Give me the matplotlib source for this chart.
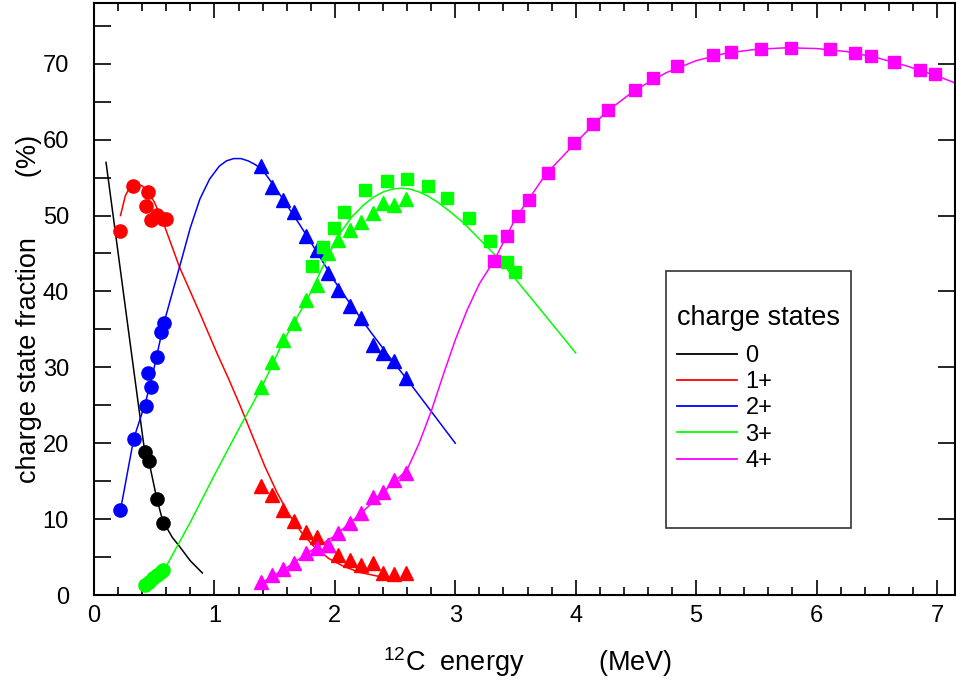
import matplotlib
matplotlib.use("Agg")
import matplotlib.pyplot as plt
from matplotlib.lines import Line2D
from matplotlib.patches import Rectangle
from matplotlib.ticker import MultipleLocator

plt.rcParams["font.family"] = ["Liberation Sans", "DejaVu Sans"]
plt.rcParams["mathtext.fontset"] = "custom"
plt.rcParams["mathtext.rm"] = "Liberation Sans"

# measured points (E in MeV, fraction in %)
q0_circ_x = [0.42, 0.46, 0.52, 0.57]
q0_circ_y = [18.9, 17.7, 12.6, 9.5]
q1_circ_x = [0.22, 0.32, 0.45, 0.43, 0.47, 0.52, 0.57, 0.60]
q1_circ_y = [47.9, 53.9, 53.1, 51.3, 49.4, 50.1, 49.5, 49.5]
q2_circ_x = [0.22, 0.33, 0.43, 0.47, 0.45, 0.52, 0.56, 0.58]
q2_circ_y = [11.2, 20.6, 24.9, 27.4, 29.2, 31.3, 34.6, 35.9]
q3_circ_x = [0.42, 0.46, 0.49, 0.52, 0.56, 0.57]
q3_circ_y = [1.3, 1.7, 2.2, 2.6, 3.0, 3.3]

tri_x = [1.39, 1.48, 1.57, 1.66, 1.76, 1.85, 1.94, 2.03, 2.13, 2.22, 2.32, 2.40, 2.49, 2.59]
q1_tri_y = [14.4, 13.2, 11.2, 9.8, 8.3, 7.6, 6.6, 5.3, 4.6, 4.0, 4.2, 2.9, 2.8, 2.9]
q2_tri_y = [56.5, 53.8, 52.0, 50.5, 47.3, 45.5, 42.4, 40.2, 38.1, 36.5, 32.9, 31.9, 30.8, 28.6]
q3_tri_y = [27.4, 30.7, 33.6, 35.8, 38.9, 40.8, 45.1, 46.8, 48.1, 49.1, 50.3, 51.6, 51.4, 52.2]
q4_tri_y = [1.7, 2.6, 3.4, 4.2, 5.5, 6.2, 6.6, 8.2, 9.5, 10.8, 12.9, 13.6, 15.2, 16.1]

q3_sq_x = [1.81, 1.90, 1.99, 2.08, 2.25, 2.43, 2.60, 2.77, 2.93, 3.11, 3.29, 3.43, 3.50]
q3_sq_y = [43.4, 45.8, 48.3, 50.4, 53.3, 54.6, 54.8, 53.9, 52.3, 49.7, 46.6, 43.9, 42.5]
q4_sq_x = [3.32, 3.43, 3.52, 3.61, 3.77, 3.99, 4.14, 4.27, 4.49, 4.64, 4.84,
           5.14, 5.29, 5.54, 5.79, 6.11, 6.32, 6.45, 6.64, 6.86, 6.98]
q4_sq_y = [44.0, 47.3, 49.9, 52.0, 55.6, 59.6, 62.0, 63.9, 66.5, 68.1, 69.7,
           71.1, 71.6, 71.9, 72.1, 71.9, 71.4, 71.0, 70.2, 69.2, 68.6]

# fitted curves
fit0_x = [0.10, 0.20, 0.30, 0.42, 0.46, 0.52, 0.57, 0.65, 0.71, 0.80, 0.90]
fit0_y = [57.0, 45.1, 33.2, 19.0, 17.3, 12.8, 9.8, 7.6, 6.4, 4.5, 2.9]
fit1_x = [0.22, 0.26, 0.30, 0.35, 0.40, 0.45, 0.50, 0.57, 0.71, 0.88, 1.02, 1.12, 1.22,
          1.32, 1.42, 1.52, 1.62, 1.72, 1.82, 1.95, 2.07, 2.20, 2.35, 2.50]
fit1_y = [50.0, 52.6, 53.8, 54.2, 53.9, 53.1, 51.8, 49.3, 43.2, 37.1, 31.9, 28.4, 24.7,
          20.8, 16.9, 13.5, 10.6, 8.3, 6.5, 4.8, 3.8, 3.0, 2.5, 2.2]
fit2_x = [0.22, 0.33, 0.43, 0.50, 0.58, 0.65, 0.71, 0.80, 0.88, 0.96, 1.04, 1.10, 1.16,
          1.22, 1.28, 1.34, 1.40, 1.50, 1.60, 1.70, 1.80, 1.90, 2.00, 2.10, 2.20, 2.30,
          2.40, 2.50, 2.60, 2.80, 3.00]
fit2_y = [11.2, 20.6, 25.5, 30.0, 35.8, 39.8, 43.2, 48.4, 52.2, 54.8, 56.5, 57.2, 57.5,
          57.5, 57.2, 56.7, 56.0, 53.8, 51.4, 49.0, 46.5, 43.9, 41.3, 39.0, 36.8, 34.6,
          32.5, 30.4, 28.4, 24.2, 20.0]
fit3_x = [0.42, 0.58, 0.80, 1.00, 1.20, 1.40, 1.57, 1.77, 1.94, 2.04, 2.14, 2.24, 2.32,
          2.40, 2.48, 2.55, 2.62, 2.70, 2.78, 2.85, 2.95, 3.07, 3.20, 3.35, 3.62, 3.80, 4.00]
fit3_y = [1.3, 3.2, 9.6, 15.8, 21.8, 27.6, 33.4, 38.9, 44.6, 47.6, 49.8, 51.4, 52.4,
          53.1, 53.5, 53.6, 53.5, 53.1, 52.5, 51.8, 50.6, 49.0, 46.9, 44.5, 39.3, 35.8, 31.9]
fit4_x = [1.38, 1.60, 1.80, 2.00, 2.20, 2.40, 2.60, 2.70, 2.80, 2.90, 3.00, 3.10, 3.20,
          3.32, 3.50, 3.75, 4.00, 4.25, 4.50, 4.75, 5.00, 5.25, 5.50, 5.75, 6.00, 6.25,
          6.50, 6.75, 7.00, 7.16]
fit4_y = [1.5, 3.6, 5.8, 7.8, 10.5, 13.5, 16.5, 20.0, 24.2, 29.0, 33.6, 37.6, 41.0,
          44.0, 49.6, 55.4, 59.6, 63.6, 66.6, 68.8, 70.4, 71.4, 71.9, 72.1, 72.0, 71.6,
          70.8, 69.7, 68.4, 67.4]

labels = ["0", "1+", "2+", "3+", "4+"]
colors = ["#000000", "#FF0000", "#0000FF", "#00FF00", "#FF00FF"]

fig = plt.figure(figsize=(9.56, 6.82), dpi=100)
ax = fig.add_axes([94 / 956, 1 - 595 / 682, 861 / 956, 592 / 682])

fits = [(fit0_x, fit0_y), (fit1_x, fit1_y), (fit2_x, fit2_y), (fit3_x, fit3_y), (fit4_x, fit4_y)]
for (fx, fy), c in zip(fits, colors):
    ax.plot(fx, fy, color=c, lw=1.1, zorder=2)

circles = [(q0_circ_x, q0_circ_y, colors[0]), (q1_circ_x, q1_circ_y, colors[1]),
           (q2_circ_x, q2_circ_y, colors[2]), (q3_circ_x, q3_circ_y, colors[3])]
for cx, cy, c in circles:
    ax.plot(cx, cy, "o", color=c, ms=9.5, mec=c, zorder=3)
for ty, c in zip([q1_tri_y, q2_tri_y, q3_tri_y, q4_tri_y], colors[1:]):
    ax.plot(tri_x, ty, "^", color=c, ms=10, mec=c, zorder=3)
ax.plot(q3_sq_x, q3_sq_y, "s", color=colors[3], ms=8, mec=colors[3], zorder=3)
ax.plot(q4_sq_x, q4_sq_y, "s", color=colors[4], ms=8, mec=colors[4], zorder=3)

ax.set_xlim(0, 7.15)
ax.set_ylim(0, 78)
ax.xaxis.set_major_locator(MultipleLocator(1))
ax.xaxis.set_minor_locator(MultipleLocator(0.2))
ax.yaxis.set_major_locator(MultipleLocator(10))
ax.yaxis.set_minor_locator(MultipleLocator(5))
ax.tick_params(which="both", direction="in", top=True, right=True, width=1.2)
ax.tick_params(axis="x", which="major", length=11, labelsize=17, pad=7)
ax.tick_params(axis="x", which="minor", length=6)
ax.tick_params(axis="y", which="both", length=12, labelsize=17, pad=18)
ax.tick_params(axis="y", which="minor", right=False)
for s in ax.spines.values():
    s.set_linewidth(1.5)

ax.set_xlabel(r"$^{12}$C  energy" + " " * 10 + "(MeV)", fontsize=19.5)
ax.xaxis.set_label_coords(0.5035, -0.084)
ax.set_ylabel("charge state fraction" + " " * 8 + "(%)", fontsize=19.5)
ax.yaxis.set_label_coords(-0.060, 0.484)

# legend box, title and entries
ax.add_patch(Rectangle((0.664, 0.113), 0.215, 0.434, transform=ax.transAxes,
                       fill=False, ec="#333333", lw=1.2, zorder=5))
ax.text((677 - 94) / 861, (595 - 318) / 592, "charge states", transform=ax.transAxes,
        fontsize=19.5, va="center", ha="left")
handles = [Line2D([], [], color=c, lw=1.3) for c in colors]
ax.legend(handles, labels, loc="upper left",
          bbox_to_anchor=((677 - 94) / 861, (595 - 345) / 592), frameon=False,
          fontsize=17, handlelength=2.55, handletextpad=0.35,
          labelspacing=0.18, borderpad=0, borderaxespad=0)

fig.savefig("out.png", dpi=100)
